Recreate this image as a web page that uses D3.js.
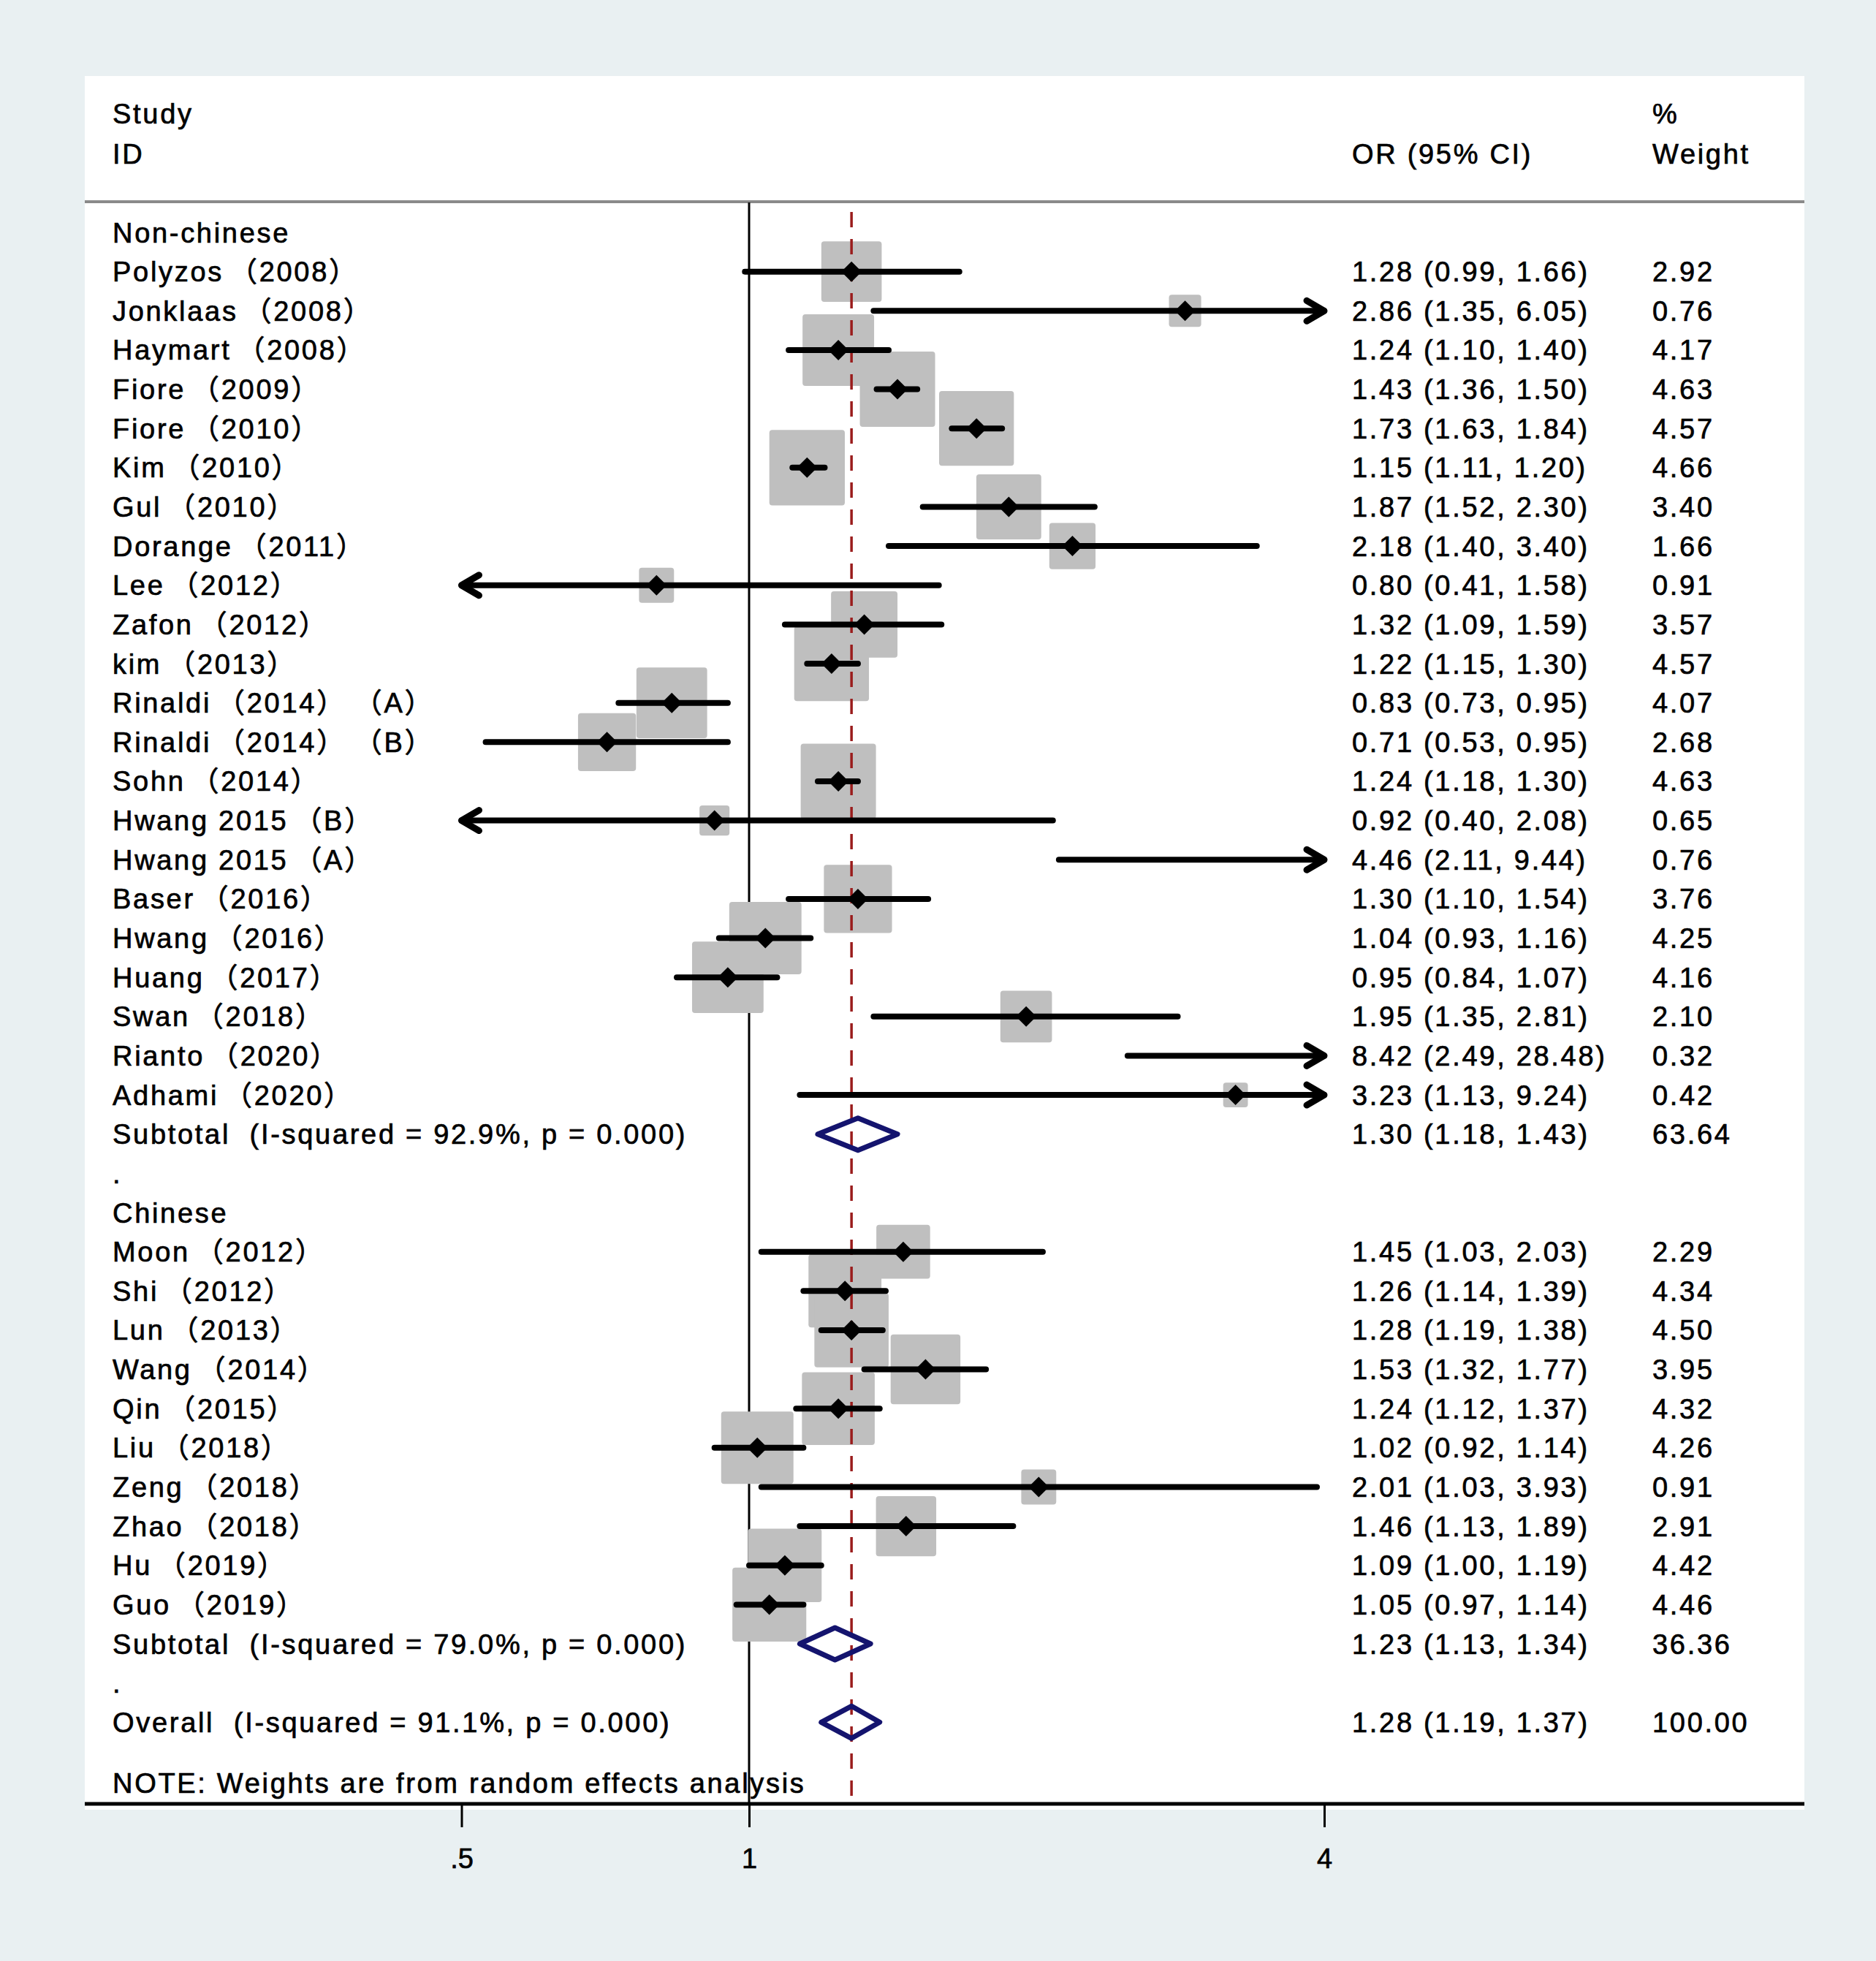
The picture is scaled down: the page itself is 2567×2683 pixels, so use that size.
<!DOCTYPE html>
<html><head><meta charset="utf-8">
<script src="https://cdn.jsdelivr.net/npm/d3@7"></script>
<style>
body{margin:0;background:#e9f0f2;}
svg text{font-family:"Liberation Sans",Arial,"Noto Sans CJK SC",sans-serif;font-size:38px;fill:#000;letter-spacing:2.7px;stroke:#000;stroke-width:0.7px;white-space:pre;}
</style>
</head><body>
<svg id="chart" width="2567" height="2683"></svg>
<script>
// ---- data ----
const rowLabels = [
  "Non-chinese",
  "Polyzos（2008）","Jonklaas（2008）","Haymart（2008）","Fiore（2009）","Fiore（2010）",
  "Kim（2010）","Gul（2010）","Dorange（2011）","Lee（2012）","Zafon（2012）","kim（2013）",
  "Rinaldi（2014）（A）","Rinaldi（2014）（B）","Sohn（2014）","Hwang 2015（B）","Hwang 2015（A）",
  "Baser（2016）","Hwang（2016）","Huang（2017）","Swan（2018）","Rianto（2020）","Adhami（2020）",
  "Subtotal  (I-squared = 92.9%, p = 0.000)",
  ".",
  "Chinese",
  "Moon（2012）","Shi（2012）","Lun（2013）","Wang（2014）","Qin（2015）","Liu（2018）",
  "Zeng（2018）","Zhao（2018）","Hu（2019）","Guo（2019）",
  "Subtotal  (I-squared = 79.0%, p = 0.000)",
  ".",
  "Overall  (I-squared = 91.1%, p = 0.000)"
];
const rowTypes = [
  "group",
  "study","study","study","study","study","study","study","study","study","study","study",
  "study","study","study","study","study","study","study","study","study","study","study",
  "sub","blank","group",
  "study","study","study","study","study","study","study","study","study","study",
  "sub","blank","sub"
];
const orValues = [null,
  1.28,2.86,1.24,1.43,1.73,1.15,1.87,2.18,0.80,1.32,1.22,0.83,0.71,1.24,0.92,4.46,1.30,1.04,0.95,1.95,8.42,3.23,
  1.30,null,null,
  1.45,1.26,1.28,1.53,1.24,1.02,2.01,1.46,1.09,1.05,
  1.23,null,1.28];
const ciLow = [null,
  0.99,1.35,1.10,1.36,1.63,1.11,1.52,1.40,0.41,1.09,1.15,0.73,0.53,1.18,0.40,2.11,1.10,0.93,0.84,1.35,2.49,1.13,
  1.18,null,null,
  1.03,1.14,1.19,1.32,1.12,0.92,1.03,1.13,1.00,0.97,
  1.13,null,1.19];
const ciHigh = [null,
  1.66,6.05,1.40,1.50,1.84,1.20,2.30,3.40,1.58,1.59,1.30,0.95,0.95,1.30,2.08,9.44,1.54,1.16,1.07,2.81,28.48,9.24,
  1.43,null,null,
  2.03,1.39,1.38,1.77,1.37,1.14,3.93,1.89,1.19,1.14,
  1.34,null,1.37];
const weights = [null,
  2.92,0.76,4.17,4.63,4.57,4.66,3.40,1.66,0.91,3.57,4.57,4.07,2.68,4.63,0.65,0.76,3.76,4.25,4.16,2.10,0.32,0.42,
  63.64,null,null,
  2.29,4.34,4.50,3.95,4.32,4.26,0.91,2.91,4.42,4.46,
  36.36,null,100.00];
const overallOR = 1.28;
const tickValues = [0.5, 1, 4];
const tickLabels = [".5", "1", "4"];
const headerLeft = ["Study", "ID"];
const headerOR = "OR (95% CI)";
const headerW = ["%", "Weight"];
const noteText = "NOTE: Weights are from random effects analysis";

// ---- layout ----
const svg = d3.select("#chart");
const W = 2567, H = 2683;
const panel = {x0: 116, y0: 104, x1: 2469, y1: 2468};
const row0 = 318, rowStep = 53.64;
const colText = 154, colOR = 1850, colW = 2261;
const capShift = 13.5;

const x = d3.scaleLog().domain([0.5, 4]).range([631.5, 1812]);
const xmin = 0.5, xmax = 4;
const yRow = i => row0 + i * rowStep;

svg.append("rect").attr("width", W).attr("height", H).attr("fill", "#e9f0f2");
svg.append("rect").attr("x", panel.x0).attr("y", panel.y0)
  .attr("width", panel.x1 - panel.x0).attr("height", panel.y1 - panel.y0 + 8).attr("fill", "#fff");

// header
svg.append("line").attr("x1", panel.x0).attr("x2", panel.x1).attr("y1", 276).attr("y2", 276)
  .attr("stroke", "#8a8a8a").attr("stroke-width", 4);
svg.append("text").attr("x", colText).attr("y", 155 + capShift).text(headerLeft[0]);
svg.append("text").attr("x", colText).attr("y", 210 + capShift).text(headerLeft[1]);
svg.append("text").attr("x", colOR).attr("y", 210 + capShift).text(headerOR);
svg.append("text").attr("x", colW).attr("y", 155 + capShift).text(headerW[0]);
svg.append("text").attr("x", colW).attr("y", 210 + capShift).text(headerW[1]);

// null line at 1
svg.append("line").attr("x1", x(1)).attr("x2", x(1)).attr("y1", 277).attr("y2", panel.y1)
  .attr("stroke", "#000").attr("stroke-width", 3);

const rows = rowLabels.map((label, i) => ({
  label, type: rowTypes[i], or: orValues[i], lo: ciLow[i], hi: ciHigh[i], w: weights[i], i
}));
const studiesRows = rows.filter(r => r.type === "study");
const subRows = rows.filter(r => r.type === "sub");

// boxes
const boxSide = w => 4 + 46 * Math.sqrt(w);
svg.append("g").selectAll("rect").data(studiesRows.filter(r => r.or >= xmin && r.or <= xmax)).join("rect")
  .attr("x", r => x(r.or) - boxSide(r.w) / 2)
  .attr("y", r => yRow(r.i) - boxSide(r.w) / 2)
  .attr("width", r => boxSide(r.w)).attr("height", r => boxSide(r.w))
  .attr("rx", 4).attr("fill", "#bfbfbf");

// overall dashed line
svg.append("line").attr("x1", x(overallOR)).attr("x2", x(overallOR)).attr("y1", 290).attr("y2", panel.y1)
  .attr("stroke", "#9a1c1c").attr("stroke-width", 3.5).attr("stroke-dasharray", "21,16");

// CI lines
const gCI = svg.append("g");
studiesRows.forEach(r => {
  const y = yRow(r.i);
  const a = Math.max(r.lo, xmin), b = Math.min(r.hi, xmax);
  gCI.append("line").attr("x1", x(a)).attr("x2", x(b)).attr("y1", y).attr("y2", y)
    .attr("stroke", "#000").attr("stroke-width", 8).attr("stroke-linecap", "round");
  if (r.hi > xmax) {
    const t = x(xmax);
    gCI.append("path").attr("d", `M${t - 24},${y - 14}L${t},${y}L${t - 24},${y + 14}`)
      .attr("fill", "none").attr("stroke", "#000").attr("stroke-width", 9)
      .attr("stroke-linecap", "round").attr("stroke-linejoin", "round");
  }
  if (r.lo < xmin) {
    const t = x(xmin);
    gCI.append("path").attr("d", `M${t + 24},${y - 14}L${t},${y}L${t + 24},${y + 14}`)
      .attr("fill", "none").attr("stroke", "#000").attr("stroke-width", 9)
      .attr("stroke-linecap", "round").attr("stroke-linejoin", "round");
  }
  if (r.or >= xmin && r.or <= xmax) {
    const cx = x(r.or), s = 14;
    gCI.append("path").attr("d", `M${cx - s},${y}L${cx},${y - s}L${cx + s},${y}L${cx},${y + s}Z`)
      .attr("fill", "#000");
  }
});

// subtotal / overall diamonds
svg.append("g").selectAll("path").data(subRows).join("path")
  .attr("d", r => {
    const y = yRow(r.i), h = 22;
    return `M${x(r.lo)},${y}L${x(r.or)},${y - h}L${x(r.hi)},${y}L${x(r.or)},${y + h}Z`;
  })
  .attr("fill", "none").attr("stroke", "#14146e").attr("stroke-width", 7).attr("stroke-linejoin", "round");

// labels (full-width parentheses get extra outer spacing, as in the source)
const gT = svg.append("g");
rows.forEach(r => {
  const y = yRow(r.i) + capShift;
  const t = gT.append("text").attr("x", colText).attr("y", y);
  const segs = r.label.split(/([（）])/).filter(s => s.length);
  let prev = "";
  segs.forEach(s => {
    let dx = (s === "（" ? 8 : 0) + (prev === "）" ? 8 : 0);
    if (prev === "）" && s === "（") dx += 14;
    t.append("tspan").attr("dx", dx || null).text(s);
    prev = s;
  });
  if (r.or != null) {
    gT.append("text").attr("x", colOR).attr("y", y)
      .text(`${r.or.toFixed(2)} (${r.lo.toFixed(2)}, ${r.hi.toFixed(2)})`);
    gT.append("text").attr("x", colW).attr("y", y).text(r.w.toFixed(2));
  }
});
svg.append("text").attr("x", colText).attr("y", 2439 + capShift).text(noteText);

// axis
const axis = d3.axisBottom(x).tickValues(tickValues)
  .tickFormat((d, i) => tickLabels[i]).tickSize(32).tickPadding(29);
const gA = svg.append("g").attr("transform", `translate(0,${panel.y1})`).call(axis);
gA.select(".domain").remove();
gA.selectAll(".tick line").attr("stroke", "#000").attr("stroke-width", 3);
gA.selectAll(".tick text").attr("font-size", null).attr("font-family", null)
  .style("font-size", "38px").style("letter-spacing", "0px");
svg.append("line").attr("x1", panel.x0).attr("x2", panel.x1).attr("y1", panel.y1).attr("y2", panel.y1)
  .attr("stroke", "#000").attr("stroke-width", 5);
</script>
</body></html>
